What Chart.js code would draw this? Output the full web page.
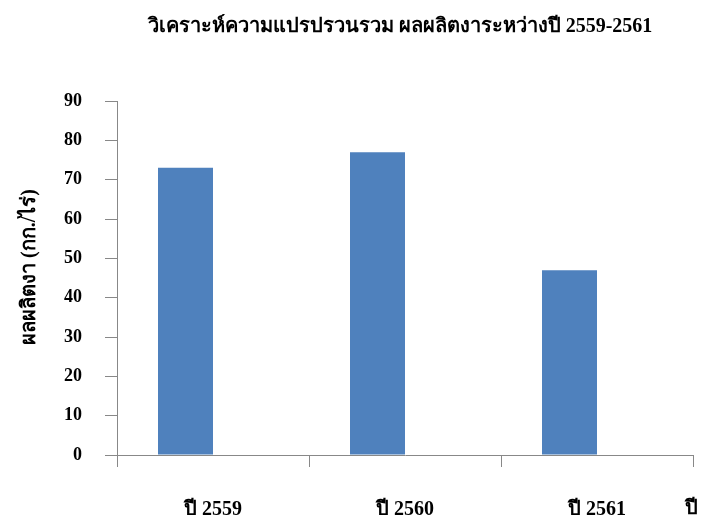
<!DOCTYPE html>
<html>
<head>
<meta charset="utf-8">
<script src="https://cdn.jsdelivr.net/npm/chart.js@4"></script>
<style>
  html, body { margin: 0; padding: 0; background: #fff; }
  #wrap { width: 709px; height: 515px; }
</style>
</head>
<body>
<div id="wrap"><canvas id="c" width="709" height="515"></canvas></div>
<script>
// Sesame yield per year (kg/rai)
const categories = ['ปี 2559', 'ปี 2560', 'ปี 2561'];
const yieldValues = [73, 77, 47];
const emptySeries = [null, null, null];
const yTicks = [0, 10, 20, 30, 40, 50, 60, 70, 80, 90];
const titleText = 'วิเคราะห์ความแปรปรวนรวม ผลผลิตงาระหว่างปี 2559-2561';
const yTitleText = 'ผลผลิตงา (กก./ไร่)';
const trailingLabel = 'ปี';

const FONT = "'Liberation Serif', 'Times New Roman', serif";
const AXIS = '#888888';

// Chart title, rotated value-axis title and the clipped trailing category label
const extraText = {
  id: 'extraText',
  afterDraw(chart) {
    const ctx = chart.ctx;
    const area = chart.chartArea;
    ctx.save();
    ctx.fillStyle = '#000';
    ctx.font = 'bold 20px ' + FONT;
    ctx.textAlign = 'center';
    ctx.textBaseline = 'middle';
    ctx.fillText(titleText, 400, 27);

    ctx.save();
    ctx.translate(30, (area.top + area.bottom) / 2 - 11);
    ctx.rotate(-Math.PI / 2);
    ctx.fillText(yTitleText, 0, 0);
    ctx.restore();

    const xs = chart.scales.x;
    ctx.textAlign = 'left';
    ctx.textBaseline = 'alphabetic';
    ctx.fillText(trailingLabel, xs.right - 8, 514);
    ctx.restore();
  }
};

new Chart(document.getElementById('c'), {
  type: 'bar',
  data: {
    labels: categories,
    datasets: [
      { data: yieldValues, backgroundColor: '#4F81BD', borderWidth: 0 },
      { data: emptySeries, backgroundColor: '#C0504D', borderWidth: 0 }
    ]
  },
  options: {
    responsive: false,
    animation: false,
    devicePixelRatio: 1,
    layout: { padding: { top: 101, right: 16, bottom: 0, left: 0 } },
    plugins: { legend: { display: false }, title: { display: false }, tooltip: { enabled: false } },
    datasets: { bar: { categoryPercentage: 110 / 192, barPercentage: 1.0 } },
    scales: {
      x: {
        grid: { drawOnChartArea: false, drawTicks: true, tickLength: 12, color: AXIS, offset: true },
        border: { color: AXIS },
        ticks: { color: '#000', font: { family: FONT, size: 20, weight: 'bold' }, padding: 31, maxRotation: 0 },
        afterFit(s) { s.height = 60; }
      },
      y: {
        min: 0, max: 90,
        afterBuildTicks(s) { s.ticks = yTicks.map(v => ({ value: v })); },
        grid: { drawOnChartArea: false, drawTicks: true, tickLength: 12, color: AXIS },
        border: { color: AXIS },
        ticks: { color: '#000', font: { family: FONT, size: 18, weight: 'bold' }, padding: 23 },
        afterFit(s) { s.width = 117; }
      }
    }
  },
  plugins: [extraText]
});
</script>
</body>
</html>
